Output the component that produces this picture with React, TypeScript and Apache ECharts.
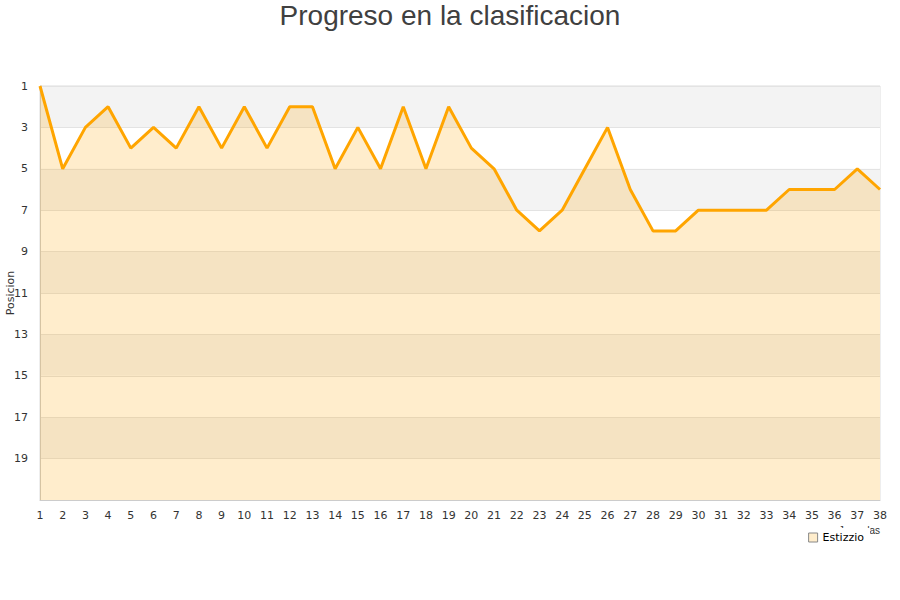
import * as echarts from 'echarts'
import { useEffect, useRef } from 'react'

// Datos de la clasificacion
const jornadas = Array.from({ length: 38 }, (_, i) => String(i + 1))
const posiciones = [
  1, 5, 3, 2, 4, 3, 4, 2, 4, 2, 4, 2, 2, 5, 3, 5, 2, 5, 2, 4, 5, 7, 8, 7, 5, 3,
  6, 8, 8, 7, 7, 7, 7, 6, 6, 6, 5, 6
]
const equipo = 'Estizzio'

function App() {
  const chartRef = useRef<HTMLDivElement>(null)

  useEffect(() => {
    if (!chartRef.current) return
    const chart = echarts.init(chartRef.current, undefined, { renderer: 'svg' })

    chart.setOption({
      animation: false,
      textStyle: { fontFamily: '"DejaVu Sans", sans-serif' },
      title: {
        text: 'Progreso en la clasificacion',
        left: 'center',
        top: -4,
        textStyle: {
          fontFamily: '"Liberation Sans", Arial, sans-serif',
          fontSize: 28,
          fontWeight: 'normal',
          color: '#404040'
        }
      },
      grid: {
        left: 40,
        right: 20,
        top: 86,
        bottom: 100,
        outerBoundsMode: 'none',
        containLabel: false,
        show: true,
        borderColor: '#dddddd',
        borderWidth: 1
      },
      legend: {
        right: 30,
        top: 528,
        z: 10,
        backgroundColor: '#ffffff',
        padding: [4, 6, 4, 6],
        icon: 'rect',
        itemWidth: 9,
        itemHeight: 9,
        itemGap: 6,
        textStyle: { color: '#000', fontSize: 11 },
        data: [
          {
            name: equipo,
            itemStyle: { color: '#ffedcc', borderColor: '#888', borderWidth: 1 }
          }
        ]
      },
      graphic: [
        {
          type: 'text',
          right: 20,
          top: 525,
          z: 1,
          style: { text: 'Jornadas', fontSize: 10, fill: '#333' }
        }
      ],
      xAxis: {
        type: 'category',
        data: jornadas,
        boundaryGap: false,
        axisLine: { lineStyle: { color: '#cccccc' } },
        axisTick: { show: false },
        axisLabel: { color: '#333', fontSize: 11, interval: 0, margin: 10 },
        splitLine: { show: false }
      },
      yAxis: {
        type: 'value',
        inverse: true,
        min: 1,
        max: 21,
        interval: 2,
        name: 'Posicion',
        nameLocation: 'middle',
        nameGap: 24,
        nameMoveOverlap: false,
        nameTextStyle: { color: '#333', fontSize: 11 },
        axisLine: { show: true, lineStyle: { color: '#cccccc' } },
        axisTick: { show: false },
        axisLabel: { color: '#333', fontSize: 11, showMaxLabel: false, margin: 12 },
        splitLine: { lineStyle: { color: '#e3e3e3' } },
        splitArea: {
          show: true,
          areaStyle: { color: ['#f3f3f3', '#ffffff'] }
        }
      },
      series: [
        {
          name: equipo,
          type: 'line',
          data: posiciones,
          showSymbol: false,
          lineStyle: { color: '#ffa500', width: 3 },
          itemStyle: { color: '#ffa500' },
          areaStyle: { color: 'rgba(255,165,0,0.2)', opacity: 1, origin: 'end' }
        }
      ]
    })

    return () => {
      chart.dispose()
    }
  }, [])

  return (
    <div
      ref={chartRef}
      style={{ position: 'absolute', left: 0, top: 0, width: 900, height: 600 }}
    />
  )
}

export default App
